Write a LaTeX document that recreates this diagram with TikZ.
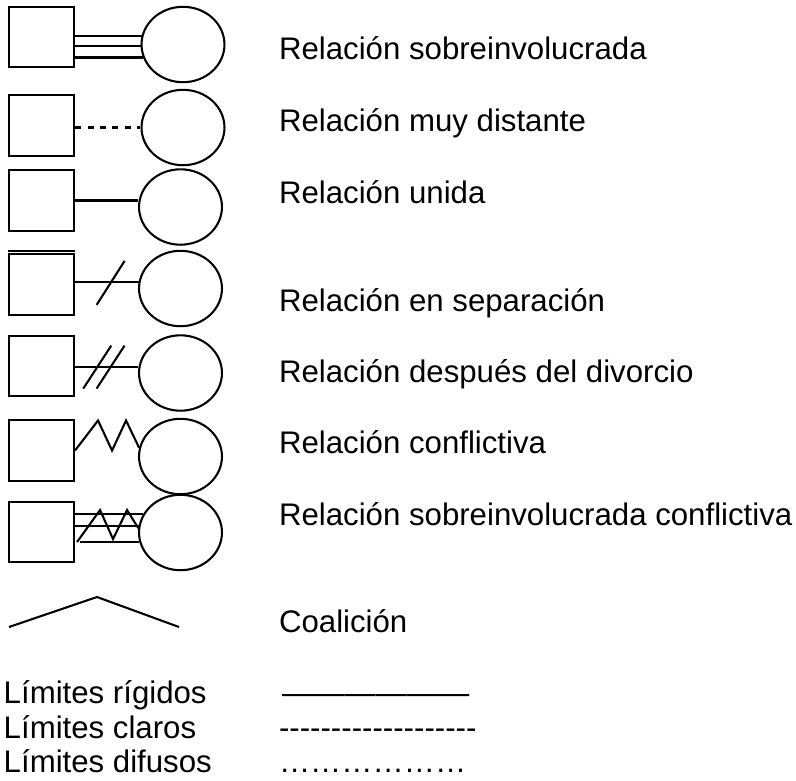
\documentclass[tikz,border=0pt]{standalone}
\usepackage{fontspec}
\setmainfont{Liberation Sans}
\usetikzlibrary{shapes,calc}

\newcommand{\rayas}[1]{\foreach \nn in {1,...,#1}{\mbox{-}}}
\newcommand{\puntos}[1]{\foreach \nn in {1,...,#1}{…}}

\begin{document}
\begin{tikzpicture}[x=0.3846pt, y=-0.3846pt, line width=0.8pt,
    hombre/.style={draw, rectangle, minimum width=25pt, minimum height=23.3pt, inner sep=0pt},
    mujer/.style={draw, ellipse, minimum width=31.9pt, minimum height=29pt, inner sep=0pt},
    etiqueta/.style={anchor=base west, inner sep=0pt, font=\fontsize{12pt}{14pt}\selectfont}]

    % Marco
    \useasboundingbox (0,0) rectangle (796,780);

    % Relacion sobreinvolucrada
    \node[hombre] (h1) at (41.5,37) {};
    \node[mujer] (m1) at (183,44.5) {};
    \draw (h1.east |- m1.168) -- (m1.168);
    \draw (h1.east |- m1.182) -- (m1.182);
    \draw (h1.east |- m1.198) -- (m1.198);

    % Relacion muy distante
    \node[hombre] (h2) at (41.5,125.5) {};
    \node[mujer] (m2) at (183,127.5) {};
    \draw[dash pattern=on 2.3pt off 2.5pt] (h2.east |- m2.west) -- (m2.west);

    % Relacion unida
    \node[hombre] (h3) at (41.5,200.5) {};
    \node[mujer] (m3) at (180.5,207) {};
    \draw (h3.east) -- (h3.east -| m3.west);

    % Relacion en separacion
    \node[hombre] (h4) at (41.5,284.5) {};
    \node[mujer] (m4) at (180.5,288.5) {};
    \draw ([yshift=0.9pt]h4.north west) -- ([yshift=0.9pt]h4.north east);
    \coordinate (a4) at (h4.east |- m4.171);
    \draw (a4) -- (m4.171);
    \draw ($(a4)!0.56!(m4.171)$) ++(-14,23) -- ++(28,-44);

    % Relacion despues del divorcio
    \node[hombre] (h5) at (41.5,366) {};
    \node[mujer] (m5) at (180.5,373) {};
    \coordinate (a5) at (h5.east |- m5.172);
    \draw (a5) -- (m5.172);
    \draw ($(a5)!0.35!(m5.172)$) ++(-14,21.5) -- ++(28,-43);
    \draw ($(a5)!0.56!(m5.172)$) ++(-14,21.5) -- ++(28,-43);

    % Relacion conflictiva
    \node[hombre] (h6) at (41.5,450.5) {};
    \node[mujer] (m6) at (180.5,456.5) {};
    \draw (h6.east) -- ++(23,-30) -- ++(14,30) -- ++(14,-30) -- (m6.168);

    % Relacion sobreinvolucrada conflictiva
    \node[hombre] (h7) at (41.5,532) {};
    \node[mujer] (m7) at (180.5,532.5) {};
    \draw (h7.east |- m7.154) -- (m7.154);
    \draw (h7.east |- m7.171) -- (m7.171);
    \coordinate (a7) at ($(h7.east |- m7.193)+(5,0)$);
    \draw (a7) -- (m7.193);
    \draw ($(a7)+(-3,0)$) -- ++(23,-32) -- ++(13,29) -- ++(14,-29) -- (m7.174);

    % Coalicion
    \coordinate (c1) at (9,627);
    \coordinate (c2) at (97,597);
    \coordinate (c3) at (179,627);
    \draw (c1) -- (c2) -- (c3);

    % Etiquetas
    \node[etiqueta] (t1) at (278,59) {Relación sobreinvolucrada};
    \node[etiqueta] (t2) at (278,131) {Relación muy distante};
    \node[etiqueta] (t3) at (278,203) {Relación unida};
    \node[etiqueta] (t4) at (278,311) {Relación en separación};
    \node[etiqueta] (t5) at (278,382) {Relación después del divorcio};
    \node[etiqueta] (t6) at (278,453) {Relación conflictiva};
    \node[etiqueta] (t7) at (278,525) {Relación sobreinvolucrada conflictiva};
    \node[etiqueta] (t8) at (278,632) {Coalición};

    % Limites
    \node[etiqueta] (l1) at (2.7,703) {Límites rígidos};
    \node[etiqueta] (l2) at (2.7,738) {Límites claros};
    \node[etiqueta] (l3) at (2.7,772) {Límites difusos};
    \node[etiqueta] (r1) at (281,703) {——————};
    \node[etiqueta] (r2) at (278,738) {\rayas{19}};
    \node[etiqueta] (r3) at (278,772) {\puntos{6}};
\end{tikzpicture}
\end{document}
